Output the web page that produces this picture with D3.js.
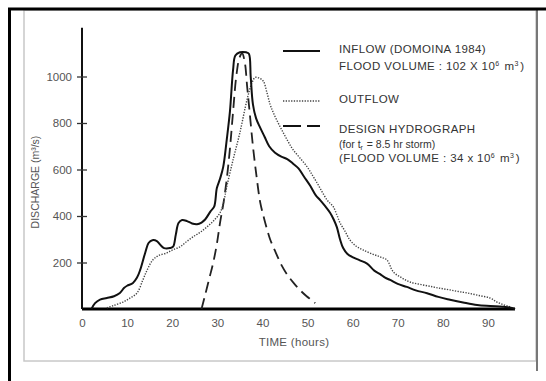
<!DOCTYPE html>
<html>
<head>
<meta charset="utf-8">
<script src="https://cdn.jsdelivr.net/npm/d3@7"></script>
<style>
  body { margin: 0; background: #fff; }
  svg text { font-family: "Liberation Sans", Arial, sans-serif; }
</style>
</head>
<body>
<svg id="chart" width="546" height="381"></svg>
<script>
// hours / discharge (m3/s)
const inflowT = [2.1, 2.9, 4, 5.5, 7.1, 8.4, 9.3, 10, 11.3, 12.2, 12.9, 14.0, 14.8, 15.6, 16.6, 17.4, 18.2, 19.5, 20.2, 20.8, 21.4, 22.2, 23.3, 24.4, 25.5, 26.5, 27.3, 28.5, 29.3, 29.9, 30.6, 31.3, 32.1, 32.8, 33.5, 34.0, 35.0, 36.4, 37.0, 37.4, 37.9, 38.6, 39.5, 40.5, 41.5, 42.8, 44.2, 45.5, 46.8, 48.0, 49.2, 50.6, 51.8, 52.8, 54.0, 55.0, 55.8, 56.5, 57.2, 57.9, 58.8, 60.1, 61.5, 63.2, 64.8, 66.1, 67.2, 68.3, 70.0, 72.0, 74.0, 76.5, 79.0, 81.6, 84.5, 87.6, 90.5, 93.3, 95.0, 96.0]
const inflowQ = [0, 25, 40, 47, 55, 69, 90, 100, 112, 135, 168, 241, 285, 296, 292, 275, 262, 262, 268, 320, 370, 383, 378, 368, 365, 372, 385, 420, 440, 520, 560, 610, 730, 850, 1030, 1090, 1104, 1104, 1098, 1000, 880, 820, 780, 740, 700, 672, 655, 645, 625, 605, 570, 530, 490, 468, 440, 414, 385, 352, 300, 262, 238, 222, 210, 195, 165, 150, 135, 125, 108, 95, 80, 68, 52, 40, 28, 17, 13, 10, 6, 0]

const outflowT = [5.5, 7, 9.1, 10.5, 12.2, 13.5, 14.5, 15.7, 17.0, 18.8, 20.2, 21.7, 23.2, 24.6, 26.2, 27.7, 29.2, 30.6, 31.4, 32.1, 33.5, 35.0, 36.6, 37.7, 38.4, 39.2, 40.2, 41.0, 41.7, 42.4, 43.5, 44.6, 45.7, 46.8, 48.3, 49.9, 51.0, 52.1, 53.2, 54.3, 55.0, 55.7, 56.5, 57.2, 58.3, 59.4, 60.8, 62.3, 64.2, 66.1, 67.6, 69.0, 70.8, 72.7, 75.2, 77.8, 79.7, 81.6, 83.5, 85.4, 88.0, 90.5, 92.0, 93.5, 94.9, 96.0]
const outflowQ = [5, 15, 30, 45, 69, 125, 170, 211, 230, 241, 255, 267, 290, 310, 330, 353, 380, 414, 460, 526, 642, 758, 901, 974, 996, 994, 980, 931, 880, 845, 800, 759, 720, 685, 650, 612, 578, 543, 505, 470, 455, 440, 405, 371, 335, 297, 270, 254, 238, 224, 211, 160, 135, 116, 105, 95, 88, 82, 75, 69, 58, 47, 30, 18, 9, 0]

const designT = [26.5, 27.3, 28.2, 29.1, 29.9, 30.6, 31.4, 32.1, 32.8, 33.5, 34.2, 34.9, 35.5, 36.1, 36.6, 37.2, 37.9, 38.7, 39.5, 40.5, 41.7, 42.8, 44.2, 45.6, 47.0, 48.4, 49.8, 50.8, 51.7]
const designQ = [0, 60, 130, 200, 280, 370, 460, 560, 690, 850, 1000, 1080, 1100, 1060, 960, 840, 700, 570, 460, 380, 300, 250, 190, 145, 110, 80, 55, 40, 25]

const xTicks = [0, 10, 20, 30, 40, 50, 60, 70, 80, 90]
const yTicks = [200, 400, 600, 800, 1000]

const legendItems = [
	{ dash: null, lines: ["INFLOW (DOMOINA 1984)", "FLOOD VOLUME : 102 X 10|6| m|3|)"] },
	{ dash: "dot", lines: ["OUTFLOW"] },
	{ dash: "dash", lines: ["DESIGN HYDROGRAPH", "(for t_r_ = 8.5 hr storm)", "(FLOOD VOLUME :  34 x 10|6| m|3|)"] }
]

const svg = d3.select("#chart")

// page frame
svg.append("rect").attr("x", 0).attr("y", 0).attr("width", 546).attr("height", 381).attr("fill", "#fff")
svg.append("rect").attr("x", 24).attr("y", 10).attr("width", 512).attr("height", 351)
	.attr("fill", "none").attr("stroke", "#c8c8c8").attr("stroke-width", 1.5)
svg.append("line").attr("x1", 537).attr("x2", 537).attr("y1", 9).attr("y2", 371)
	.attr("stroke", "#777").attr("stroke-width", 2)
svg.append("line").attr("x1", 8).attr("x2", 546).attr("y1", 9).attr("y2", 9)
	.attr("stroke", "#000").attr("stroke-width", 3)
svg.append("line").attr("x1", 9.5).attr("x2", 9.5).attr("y1", 8).attr("y2", 381)
	.attr("stroke", "#000").attr("stroke-width", 3)

const x = d3.scaleLinear().domain([0, 96]).range([82, 515])
const y = d3.scaleLinear().domain([0, 1200]).range([309, 30])

// axes
svg.append("line").attr("x1", x(0)).attr("x2", x(96)).attr("y1", y(0)).attr("y2", y(0))
	.attr("stroke", "#000").attr("stroke-width", 2.8)
svg.append("line").attr("x1", x(0)).attr("x2", x(0)).attr("y1", y(0)).attr("y2", y(1210))
	.attr("stroke", "#111").attr("stroke-width", 2)

const yAxis = svg.append("g")
	.attr("transform", `translate(${x(0) + 5},0)`)
	.call(d3.axisLeft(y).tickValues(yTicks).tickSize(10).tickPadding(5).tickFormat(d3.format("d")))
yAxis.select(".domain").remove()
yAxis.selectAll(".tick line").attr("stroke", "#333").attr("stroke-width", 1.3)
yAxis.selectAll(".tick text").attr("fill", "#555").attr("font-size", 11.5)
	.attr("font-family", "'Liberation Sans', Arial, sans-serif")

const xAxis = svg.append("g")
	.attr("transform", `translate(0,${y(0) + 6})`)
	.call(d3.axisBottom(x).tickValues(xTicks).tickSize(0).tickPadding(4))
xAxis.select(".domain").remove()
xAxis.selectAll(".tick text").attr("fill", "#555").attr("font-size", 11.5)
	.attr("font-family", "'Liberation Sans', Arial, sans-serif")

svg.append("text").attr("x", 294).attr("y", 346).attr("text-anchor", "middle")
	.attr("fill", "#555").attr("font-size", 11.5).attr("letter-spacing", 0.3).text("TIME (hours)")

svg.append("text").attr("transform", "translate(39,182) rotate(-90)").attr("text-anchor", "middle")
	.attr("fill", "#555").attr("font-size", 10.5).text("DISCHARGE (m³/s)")

// curves
const line = d3.line().x(d => x(d[0])).y(d => y(d[1])).curve(d3.curveCatmullRom.alpha(0.5))

svg.append("path").datum(designT.map((t, i) => [t, designQ[i]]))
	.attr("d", line).attr("fill", "none").attr("stroke", "#222")
	.attr("stroke-width", 1.8).attr("stroke-dasharray", "11,6")

svg.append("path").datum(outflowT.map((t, i) => [t, outflowQ[i]]))
	.attr("d", line).attr("fill", "none").attr("stroke", "#444")
	.attr("stroke-width", 1.4).attr("stroke-dasharray", "1.3,1.4")

svg.append("path").datum(inflowT.map((t, i) => [t, inflowQ[i]]))
	.attr("d", line).attr("fill", "none").attr("stroke", "#111")
	.attr("stroke-width", 2)

// legend
const legendY = [51, 101, 126]
const textY = [[53, 70], [103], [133, 148, 162]]
legendItems.forEach((item, i) => {
	const l = svg.append("line").attr("x1", 283).attr("x2", 320)
		.attr("y1", legendY[i]).attr("y2", legendY[i]).attr("stroke", "#111")
	if (item.dash === "dot") l.attr("stroke-width", 1.4).attr("stroke-dasharray", "1.3,1.4").attr("stroke", "#444")
	else if (item.dash === "dash") l.attr("stroke-width", 2).attr("stroke-dasharray", "18,6")
	else l.attr("stroke-width", 2.2)

	item.lines.forEach((s, j) => {
		const small = j === 1 && i === 2
		const t = svg.append("text").attr("x", 339).attr("y", textY[i][j])
			.attr("fill", "#333").attr("font-size", small ? 10.5 : 11.5)
			.attr("letter-spacing", small ? 0 : 0.4)
		// |x| = superscript, _x_ = subscript
		s.split(/(\|[^|]+\||_[^_]+_)/).forEach(part => {
			if (!part) return
			if (part.startsWith("|")) {
				t.append("tspan").attr("dy", -4).attr("font-size", 7).text(part.slice(1, -1))
				t.append("tspan").attr("dy", 4).text("\u200a")
			} else if (part.startsWith("_")) {
				t.append("tspan").attr("dy", 2).attr("font-size", 7).text(part.slice(1, -1))
				t.append("tspan").attr("dy", -2).text("\u200a")
			} else {
				t.append("tspan").text(part)
			}
		})
	})
})
</script>
</body>
</html>
